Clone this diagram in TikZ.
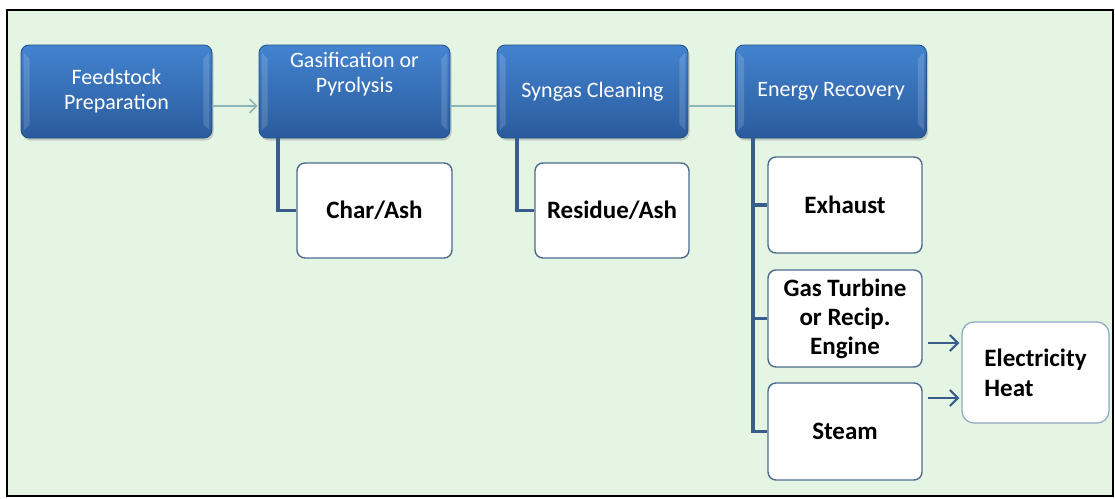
\documentclass[tikz,border=0pt]{standalone}
\usepackage{fontspec}
\setmainfont{Carlito}
\usetikzlibrary{arrows.meta,shadows}
\definecolor{bg}{HTML}{E4F5E4}
\definecolor{btop}{HTML}{4383D0}
\definecolor{bbot}{HTML}{2A5B9C}
\definecolor{bedge}{HTML}{244F88}
\definecolor{wedge}{HTML}{4C6B8E}
\definecolor{conn}{HTML}{3A5C8A}
\definecolor{tconn}{HTML}{8DB5B5}
\definecolor{eedge}{HTML}{8CA6C0}
\tikzset{
  bluebox/.style={draw=bedge, line width=0.8pt, rounded corners=8pt,
    top color=btop, bottom color=bbot, minimum width=191pt, minimum height=93pt,
    text=white, align=center, font=\fontsize{22}{25}\selectfont,
    drop shadow={opacity=0.35, shadow xshift=1.5pt, shadow yshift=-2.5pt}},
  bluetext/.style={text=white, align=center, font=\fontsize{22}{25}\selectfont},
  whitebox/.style={draw=wedge, line width=1.4pt, rounded corners=8pt, fill=white,
    minimum width=154pt, minimum height=95pt, align=center,
    font=\bfseries\fontsize{25}{29}\selectfont},
  elecbox/.style={draw=eedge, line width=1.2pt, rounded corners=12pt, fill=white,
    minimum width=147pt, minimum height=101pt, align=left,
    font=\bfseries\fontsize{25}{30}\selectfont},
  branch/.style={draw=conn, line width=3.5pt},
  topline/.style={draw=tconn, line width=1.5pt},
  toparrow/.style={topline, -{Straight Barb[length=7pt, width=14pt, line width=1.5pt]}},
  outarrow/.style={draw=conn, line width=2.4pt, -{Straight Barb[length=8pt, width=16pt, line width=2.2pt]}},
  highlight/.style={fill=white, opacity=0.15}
}
\begin{document}
\begin{tikzpicture}[x=1pt,y=-1pt]
\useasboundingbox (0,0) rectangle (1115,498);
\fill[white] (0,0) rectangle (1115,498);
\draw[line width=2.2pt, fill=bg] (7,10) rectangle (1113,496);

% top row
\node[bluebox] (feed) at (116.5,91.5) {Feedstock\\Preparation};
\node[bluebox] (gas) at (354.5,91.5) {};
\node[bluetext] (gastext) at (354.5,74.5) {Gasification or\\Pyrolysis};
\node[bluebox] (syn) at (592.5,91.5) {Syngas Cleaning};
\node[bluebox] (eng) at (831,91.5) {Energy Recovery};

% bevel highlights
\foreach \b in {feed,gas,syn,eng}{
  \fill[highlight] ([xshift=3pt,yshift=-8pt]\b.north west) -- ([xshift=9pt,yshift=-14pt]\b.north west)
     -- ([xshift=9pt,yshift=14pt]\b.south west) -- ([xshift=3pt,yshift=8pt]\b.south west) -- cycle;
  \fill[highlight] ([xshift=-3pt,yshift=-8pt]\b.north east) -- ([xshift=-9pt,yshift=-14pt]\b.north east)
     -- ([xshift=-9pt,yshift=14pt]\b.south east) -- ([xshift=-3pt,yshift=8pt]\b.south east) -- cycle;
}

% white boxes
\node[whitebox, minimum width=155pt] (char) at (374.5,210.5) {Char/Ash};
\node[whitebox] (res) at (612,210.5) {Residue/Ash};
\node[whitebox, minimum height=96pt] (exh) at (845,205) {Exhaust};
\node[whitebox, minimum height=97pt] (gt) at (845,318.5) {Gas Turbine\\or Recip.\\Engine};
\node[whitebox, minimum height=97pt] (steam) at (845,431.5) {Steam};
\node[elecbox] (elec) at (1035.5,372.5) {Electricity\\Heat};

% top connectors
\draw[toparrow] ([yshift=-14.5pt]feed.east) -- ([yshift=-14.5pt,xshift=-1pt]gas.west);
\draw[topline] ([yshift=-14.5pt]gas.east) -- ([yshift=-14.5pt]syn.west);
\draw[topline] ([yshift=-14.5pt]syn.east) -- ([yshift=-14.5pt]eng.west);

% branches
\draw[branch] ([xshift=-76.5pt]gas.south) |- (char.west);
\draw[branch] ([xshift=-75.5pt]syn.south) |- (res.west);
\draw[branch] ([xshift=-78pt]eng.south) |- (steam.west);
\draw[branch] ([xshift=-78pt]eng.south |- exh.west) -- (exh.west);
\draw[branch] ([xshift=-78pt]eng.south |- gt.west) -- (gt.west);

% output arrows
\coordinate (a1) at (928,343);
\coordinate (a2) at (928,398);
\draw[outarrow] (a1) -- ([xshift=-2pt]a1 -| elec.west);
\draw[outarrow] (a2) -- ([xshift=-2pt]a2 -| elec.west);
\end{tikzpicture}
\end{document}
